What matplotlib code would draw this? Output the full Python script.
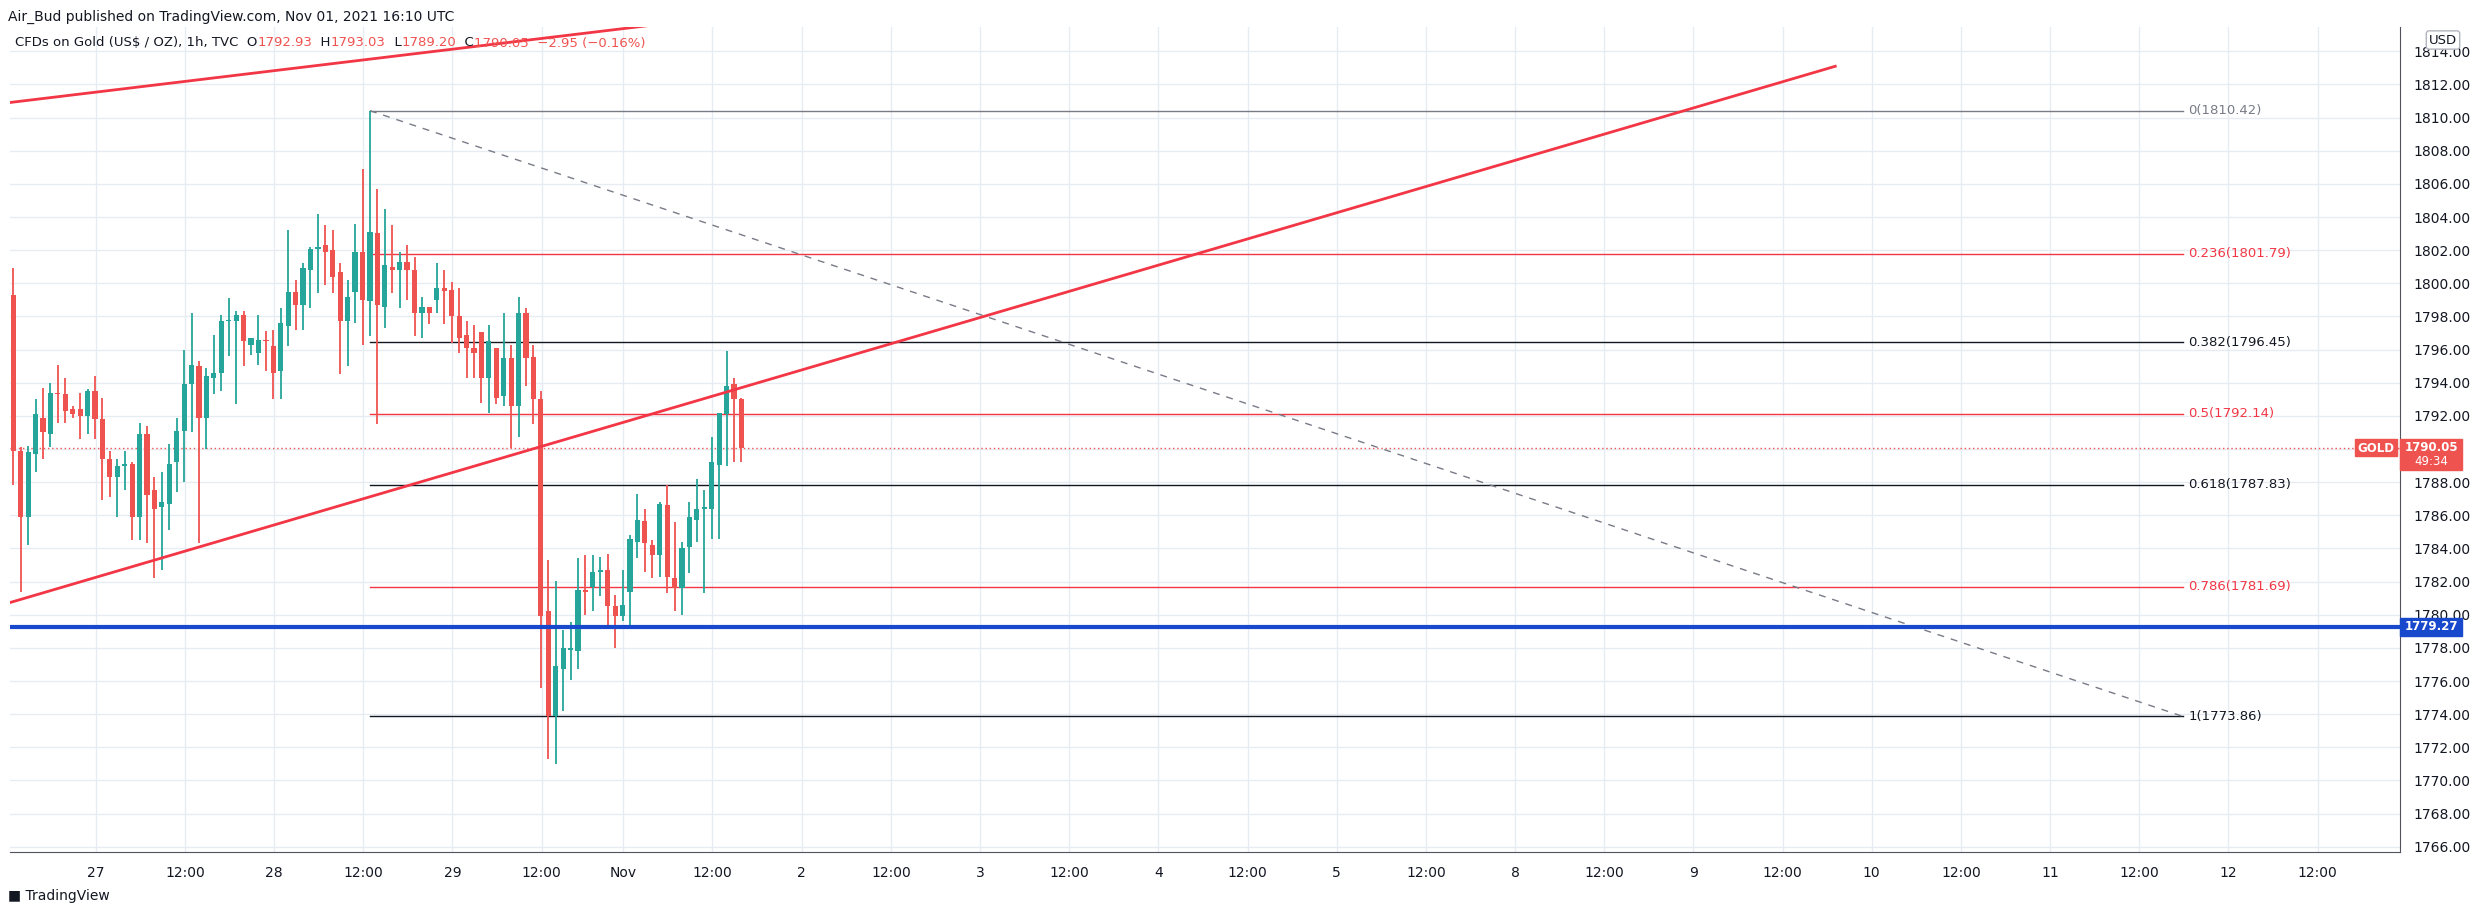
import matplotlib
matplotlib.use("Agg")
import matplotlib.pyplot as plt
import numpy as np

opens = [1799.3,1789.9,1785.9,1789.7,1791.9,1790.9,1793.4,1793.3,1792.4,1792.4,1792.0,1793.5,1791.8,1789.4,1788.3,1789.0,1789.1,1785.9,1790.9,1787.5,
         1786.5,1786.7,1789.2,1791.1,1793.9,1795.0,1791.9,1794.3,1794.6,1797.7,1797.7,1798.1,1796.3,1795.8,1796.6,1796.2,1794.7,1797.4,1799.5,1798.7,
         1800.8,1802.1,1802.3,1802.0,1800.7,1797.7,1799.5,1801.9,1798.95,1803.05,1798.6,1801.0,1800.8,1801.3,1800.8,1798.2,1798.6,1799.0,1799.7,1799.6,
         1798.05,1796.9,1796.1,1797.05,1794.3,1796.1,1793.2,1795.5,1792.6,1798.2,1795.55,1793.0,1780.2,1773.9,1776.7,1777.9,1777.8,1781.5,1781.65,1782.6,
         1782.7,1780.5,1779.9,1781.4,1784.4,1785.65,1784.2,1783.6,1786.6,1782.2,1781.6,1784.1,1785.7,1786.4,1786.4,1789.05,1792.1,1793.9,1793.0]
highs = [1800.9,1790.1,1790.2,1793.0,1793.7,1794.0,1795.1,1794.3,1792.6,1793.4,1793.6,1794.4,1793.1,1789.9,1789.4,1789.9,1789.2,1791.6,1791.4,1788.3,
         1788.6,1790.3,1791.9,1796.0,1798.2,1795.3,1794.9,1796.9,1798.1,1799.1,1798.3,1798.3,1796.7,1798.1,1797.1,1797.2,1798.5,1803.2,1800.2,1801.2,
         1802.2,1804.2,1803.5,1803.2,1801.2,1800.2,1803.6,1806.9,1810.42,1805.7,1804.5,1803.5,1801.9,1802.3,1801.6,1799.2,1798.6,1801.2,1800.8,1800.1,
         1799.7,1797.7,1797.5,1797.05,1797.5,1796.1,1798.2,1796.3,1799.2,1798.5,1796.3,1793.5,1783.3,1782.05,1779.1,1779.55,1783.45,1783.6,1783.6,1783.5,
         1783.65,1781.2,1782.7,1784.8,1787.3,1786.4,1784.5,1786.8,1787.8,1785.6,1784.4,1786.8,1788.2,1787.55,1790.7,1792.2,1795.9,1794.3,1793.05]
lows = [1787.8,1781.4,1784.2,1788.6,1789.4,1790.1,1791.6,1791.6,1791.9,1790.6,1790.9,1790.6,1786.9,1787.1,1785.9,1787.5,1784.5,1784.5,1784.3,1782.2,
        1782.7,1785.1,1787.4,1788.0,1791.0,1784.3,1790.0,1793.3,1793.5,1795.6,1792.7,1795.0,1795.7,1795.1,1794.7,1793.0,1793.0,1796.2,1797.2,1797.2,
        1798.5,1799.4,1799.9,1799.4,1794.5,1795.0,1797.6,1796.3,1796.8,1791.5,1797.3,1799.4,1798.5,1799.0,1796.8,1796.7,1797.55,1798.2,1797.55,1796.4,
        1795.8,1794.3,1794.3,1792.8,1792.2,1792.7,1792.6,1790.05,1790.7,1793.8,1791.5,1775.55,1771.3,1771.0,1774.2,1776.05,1776.7,1780.0,1780.2,1781.1,
        1779.3,1778.0,1779.6,1779.3,1783.4,1782.6,1782.2,1782.3,1781.3,1780.2,1780.0,1782.5,1784.4,1781.3,1784.55,1784.6,1789.0,1789.2,1789.2]
closes = [1789.9,1785.9,1789.8,1792.1,1791.0,1793.4,1793.3,1792.3,1792.1,1792.0,1793.5,1791.8,1789.4,1788.3,1789.0,1789.0,1785.9,1790.9,1787.2,1786.4,
          1786.8,1789.1,1791.1,1793.9,1795.1,1791.9,1794.4,1794.6,1797.7,1797.8,1798.1,1796.5,1796.7,1796.6,1796.5,1794.6,1797.6,1799.5,1798.7,1800.9,
          1802.1,1802.2,1801.9,1800.4,1797.7,1799.2,1801.9,1799.0,1803.1,1798.7,1801.1,1800.8,1801.3,1800.8,1798.2,1798.6,1798.2,1799.7,1799.55,1798.05,
          1796.7,1796.1,1795.8,1794.3,1796.5,1793.1,1795.5,1792.6,1798.2,1795.5,1793.0,1779.9,1773.9,1776.9,1778.0,1777.9,1781.5,1781.4,1782.6,1782.7,
          1780.5,1779.9,1780.6,1784.6,1785.7,1784.3,1783.6,1786.7,1782.3,1781.6,1784.05,1785.9,1786.4,1786.4,1789.2,1792.2,1793.8,1793.0,1790.05]

fib_ratios = ["0", "0.236", "0.382", "0.5", "0.618", "0.786", "1"]
fib_prices = [1810.42, 1801.79, 1796.45, 1792.14, 1787.83, 1781.69, 1773.86]
fib_colors = ["#787b86", "#f23645", "#131722", "#f23645", "#131722", "#f23645", "#131722"]

tick_labels = ["27","12:00","28","12:00","29","12:00","Nov","12:00","2","12:00","3","12:00","4","12:00",
               "5","12:00","8","12:00","9","12:00","10","12:00","11","12:00","12","12:00"]
support_level = 1779.27
last_price = 1790.05

W, H = 2474, 915
fig = plt.figure(figsize=(W/100, H/100), dpi=100)
fig.patch.set_facecolor("white")
L, R, T, B = 10, 2400, 27, 852
ax = fig.add_axes([L/W, 1-B/H, (R-L)/W, (B-T)/H])
ax.set_xlim(-0.44, 321.2)
ax.set_ylim(1765.68, 1815.47)

grid_c = "#e6ecf2"
ypr = np.arange(1766, 1816, 2)
for p in ypr:
    ax.axhline(p, color=grid_c, lw=1, zorder=0)
xt = [11.1 + 12*k for k in range(6)] + [82.1 + 12*k for k in range(20)]
for x in xt:
    ax.axvline(x, color=grid_c, lw=1, zorder=0)

ax.set_xticks(xt)
ax.set_xticklabels(tick_labels, fontsize=10, color="#131722")
ax.set_yticks(ypr)
ax.set_yticklabels(["" if p == 1790 else f"{p:.2f}" for p in ypr], fontsize=10, color="#131722")
ax.yaxis.tick_right()
ax.tick_params(axis="both", length=0)
ax.tick_params(axis="y", pad=10)
ax.tick_params(axis="x", pad=10)
for s in ["left", "top"]:
    ax.spines[s].set_visible(False)
ax.spines["bottom"].set_color("#50535e")
ax.spines["right"].set_color("#50535e")

# candles
up_c, dn_c = "#26a69a", "#ef5350"
idx = np.arange(len(opens))
o = np.array(opens); c = np.array(closes); h = np.array(highs); l = np.array(lows)
cols = [up_c if cc >= oo else dn_c for oo, cc in zip(o, c)]
ax.vlines(idx, l, h, colors=cols, lw=1.3, zorder=3)
bh = np.maximum(np.abs(c - o), 0.08)
ax.bar(idx, bh, bottom=np.minimum(o, c), width=0.7, color=cols, zorder=4, lw=0)

# fib levels
fx0, fx1 = 48, 292
for r, p, col in zip(fib_ratios, fib_prices, fib_colors):
    ax.plot([fx0, fx1], [p, p], color=col, lw=1.0, zorder=2)
    ax.text(fx1 + 0.7, p, f"{r}({p:.2f})", color=col, fontsize=9.5, va="center", ha="left", zorder=5)
ax.plot([fx0, fx1], [fib_prices[0], fib_prices[-1]], color="#787b86", lw=1, ls=(0, (5, 5)), zorder=2)

# trendlines
ax.plot([-0.7, 245.2], [1780.7, 1813.1], color="#f23645", lw=2, zorder=5)
ax.plot([-0.7, 90], [1810.9, 1815.8], color="#f23645", lw=2, zorder=5)

# support line
ax.axhline(support_level, color="#1848cc", lw=3, zorder=5)
# current price line
ax.axhline(last_price, color="#ef5350", lw=1, ls=(0, (1, 2)), zorder=1)

# price labels on axis
def ylab(p):
    return 1 - (B - (p - 1765.68) / (1815.47 - 1765.68) * (B - T)) / H
Rect = matplotlib.patches.Rectangle
yl = ylab(last_price)
fig.patches.append(Rect((2400/W, yl - 22/H), 62/W, 31/H, transform=fig.transFigure, color="#ef5350", zorder=10))
fig.text(2431/W, yl + 1/H, "1790.05", color="white", fontsize=8.5, fontweight="bold", ha="center", va="center", zorder=11)
fig.text(2431/W, yl - 13/H, "49:34", color="white", fontsize=8.5, ha="center", va="center", zorder=11)
fig.patches.append(Rect((2355/W, yl - 8/H), 42/W, 17/H, transform=fig.transFigure, color="#ef5350", zorder=10))
fig.text(2376/W, yl, "GOLD", color="white", fontsize=8.5, fontweight="bold", ha="center", va="center", zorder=11)
ys = ylab(support_level)
fig.patches.append(Rect((2400/W, ys - 9/H), 62/W, 18/H, transform=fig.transFigure, color="#1848cc", zorder=10))
fig.text(2431/W, ys, "1779.27", color="white", fontsize=8.5, fontweight="bold", ha="center", va="center", zorder=11)

# header texts
fig.text(8/W, 1-17/H, "Air_Bud published on TradingView.com, Nov 01, 2021 16:10 UTC", fontsize=10, color="#131722", va="center")
parts = [("CFDs on Gold (US$ / OZ), 1h, TVC  O", "#131722"), ("1792.93", "#ef5350"), ("  H", "#131722"), ("1793.03", "#ef5350"),
         ("  L", "#131722"), ("1789.20", "#ef5350"), ("  C", "#131722"), ("1790.05  −2.95 (−0.16%)", "#ef5350")]
fig.canvas.draw()
rend = fig.canvas.get_renderer()
xpos = 15
for s, col in parts:
    tt = fig.text(xpos/W, 1-43/H, s, fontsize=9.5, color=col, va="center")
    xpos += tt.get_window_extent(renderer=rend).width
fig.text(2443/W, 1-40/H, "USD", fontsize=9.5, color="#131722", ha="center", va="center",
         bbox=dict(facecolor="white", edgecolor="#b2b5be", boxstyle="round,pad=0.2"))
fig.text(8/W, 1-896/H, "\u25A0 TradingView", fontsize=10, color="#131722", va="center")

fig.savefig("out.png", dpi=100, facecolor="white")
